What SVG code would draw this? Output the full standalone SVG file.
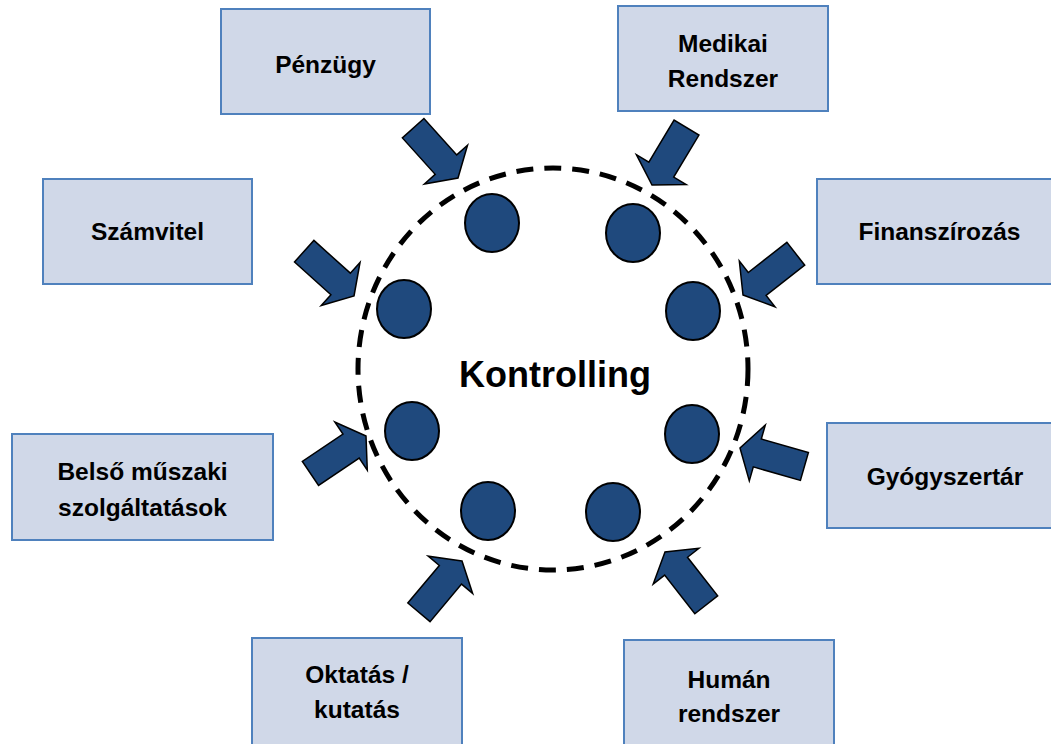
<svg xmlns="http://www.w3.org/2000/svg" width="1051" height="744" viewBox="0 0 1051 744">
<style>
.box{fill:#D0D8E8;stroke:#4F81BD;stroke-width:2}
.lbl{font-family:"Liberation Sans",Arial,sans-serif;font-weight:bold;font-size:24.5px;fill:#000;text-anchor:middle}
.dot{fill:#1F497D;stroke:#000;stroke-width:2}
.arr{fill:#1F497D;stroke:#000;stroke-width:1.5;stroke-linejoin:miter}
</style>
<defs>
<path id="arrow" d="M0,0 L-18,-29 L-18,-14.5 L-67,-14.5 L-67,14.5 L-18,14.5 L-18,29 Z"/>
</defs>
<rect width="1051" height="744" fill="#fff"/>
<g id="center">
<ellipse cx="553" cy="369" rx="195" ry="201" fill="none" stroke="#000" stroke-width="5" stroke-dasharray="17,11"/>
<text x="555" y="387" class="lbl" style="font-size:36px">Kontrolling</text>
<ellipse class="dot" cx="492" cy="223" rx="27" ry="29"/>
<ellipse class="dot" cx="633" cy="233" rx="27" ry="29"/>
<ellipse class="dot" cx="404" cy="309" rx="27" ry="29"/>
<ellipse class="dot" cx="693" cy="311" rx="27" ry="29"/>
<ellipse class="dot" cx="412" cy="431" rx="27" ry="29"/>
<ellipse class="dot" cx="692" cy="434" rx="27" ry="29"/>
<ellipse class="dot" cx="488" cy="511" rx="27" ry="29"/>
<ellipse class="dot" cx="613" cy="512" rx="27" ry="29"/>
</g>
<g id="connectors">
<use href="#arrow" class="arr" transform="translate(458,178) rotate(48)"/>
<use href="#arrow" class="arr" transform="translate(652,185) rotate(121)"/>
<use href="#arrow" class="arr" transform="translate(354,296) rotate(42)"/>
<use href="#arrow" class="arr" transform="translate(743,295) rotate(142)"/>
<use href="#arrow" class="arr" transform="translate(366,436) rotate(-34)"/>
<use href="#arrow" class="arr" transform="translate(740,448) rotate(196)"/>
<use href="#arrow" class="arr" transform="translate(462,561) rotate(-50)"/>
<use href="#arrow" class="arr" transform="translate(665,552) rotate(232)"/>
</g>
<g id="penzugy"><rect class="box" x="221" y="9" width="209" height="105"/><text class="lbl" x="325.5" y="73">Pénzügy</text></g>
<g id="medikai"><rect class="box" x="618" y="6" width="210" height="105"/><text class="lbl" x="723" y="52">Medikai</text><text class="lbl" x="723" y="87">Rendszer</text></g>
<g id="szamvitel"><rect class="box" x="43" y="179" width="209" height="105"/><text class="lbl" x="147.5" y="240">Számvitel</text></g>
<g id="finanszirozas"><rect class="box" x="817" y="179" width="250" height="105"/><text class="lbl" x="939.5" y="240">Finanszírozás</text></g>
<g id="belso"><rect class="box" x="12" y="434" width="261" height="106"/><text class="lbl" x="142.5" y="480">Belső műszaki</text><text class="lbl" x="142.5" y="516">szolgáltatások</text></g>
<g id="gyogyszertar"><rect class="box" x="827" y="423" width="240" height="105"/><text class="lbl" x="945" y="485">Gyógyszertár</text></g>
<g id="oktatas"><rect class="box" x="252" y="638" width="210" height="112"/><text class="lbl" x="357" y="683">Oktatás /</text><text class="lbl" x="357" y="718">kutatás</text></g>
<g id="human"><rect class="box" x="624" y="640" width="210" height="112"/><text class="lbl" x="729" y="688">Humán</text><text class="lbl" x="729" y="722">rendszer</text></g>
</svg>
